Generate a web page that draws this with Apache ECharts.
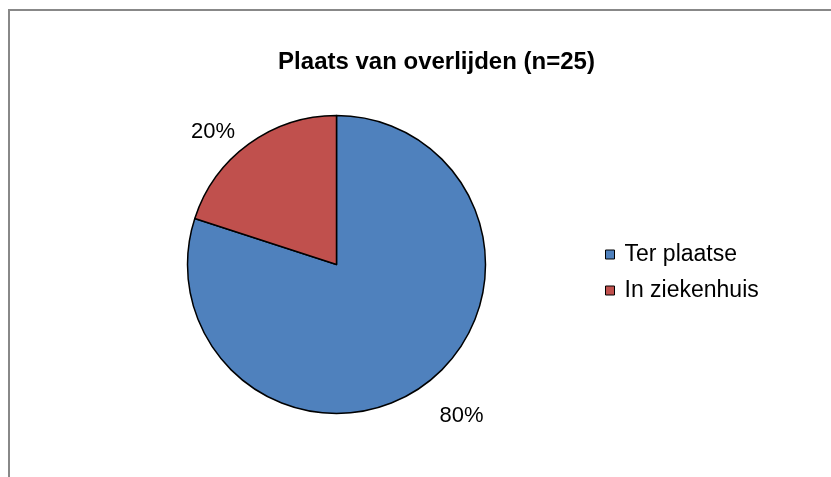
<!DOCTYPE html>
<html>
<head>
<meta charset="utf-8">
<title>Plaats van overlijden</title>
<script src="https://cdn.jsdelivr.net/npm/echarts@6/dist/echarts.min.js"></script>
<style>
  html, body { margin: 0; padding: 0; background: #ffffff; }
  #chart { width: 831px; height: 477px; }
</style>
</head>
<body>
<div id="chart"></div>
<script>
// Place of death, share of cases (n=25)
const titleText = 'Plaats van overlijden (n=25)';
const categories = ['Ter plaatse', 'In ziekenhuis'];
const percentages = [80, 20];
const sliceColors = ['#4F81BD', '#C0504D'];

const FONT = '"Liberation Sans", Arial, sans-serif';

// per-slice label line offsets so the percentage sits just outside the rim
const labelLines = [
  { length: 38, length2: -12 },
  { length: 15, length2: 0 }
];

const chart = echarts.init(document.getElementById('chart'), null, { renderer: 'canvas' });

const pieData = categories.map((name, i) => ({
  name: name,
  value: percentages[i],
  itemStyle: { color: sliceColors[i] },
  labelLine: { show: false, length: labelLines[i].length, length2: labelLines[i].length2 }
}));

chart.setOption({
  backgroundColor: '#ffffff',
  animation: false,
  graphic: [{
    type: 'rect',
    silent: true,
    shape: { x: 9, y: 10, width: 900, height: 600 },
    style: { fill: 'none', stroke: '#888888', lineWidth: 2 }
  }],
  title: {
    text: titleText,
    left: 436.5,
    top: 50,
    textAlign: 'center',
    padding: 0,
    textStyle: { fontFamily: FONT, fontSize: 24, fontWeight: 'bold', color: '#000000' }
  },
  legend: {
    orient: 'vertical',
    left: 605,
    top: 243,
    padding: 0,
    icon: 'rect',
    itemWidth: 9,
    itemHeight: 9,
    itemGap: 13,
    selectedMode: false,
    itemStyle: { borderColor: '#000000', borderWidth: 1 },
    textStyle: { fontFamily: FONT, fontSize: 23, color: '#000000', padding: [0, 0, 0, 5] },
    data: categories
  },
  series: [{
    type: 'pie',
    center: [336.5, 264.5],
    radius: [0, 149],
    startAngle: 90,
    clockwise: true,
    avoidLabelOverlap: false,
    itemStyle: { borderColor: '#000000', borderWidth: 1.5 },
    emphasis: { disabled: true },
    label: {
      show: true,
      position: 'outside',
      alignTo: 'none',
      formatter: p => p.value + '%',
      fontFamily: FONT,
      fontSize: 22,
      color: '#000000'
    },
    data: pieData
  }]
});
</script>
</body>
</html>
